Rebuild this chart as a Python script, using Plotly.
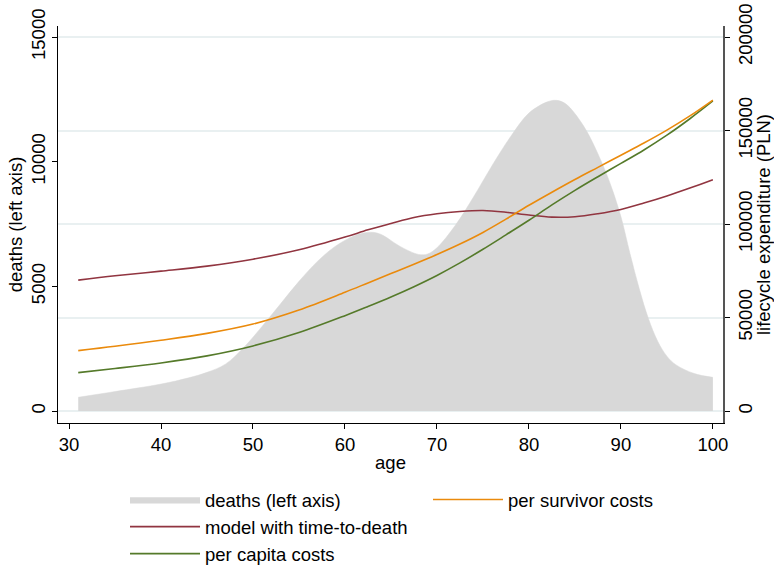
import plotly.graph_objects as go

# Deaths by age (left axis)
ages_deaths = [31, 35, 40, 43, 45, 47, 49, 51, 53, 55, 57, 59, 61, 62, 63, 64, 66, 68, 69, 70,
               72, 74, 76, 78, 80, 82, 83, 84, 86, 88, 89, 90, 91, 92, 93, 94, 95, 96, 98, 100]
deaths = [550, 780, 1080, 1330, 1550, 1880, 2550, 3400, 4300, 5200, 6000, 6620, 7030, 7140, 7170,
          7070, 6600, 6280, 6300, 6550, 7450, 8600, 9850, 11000, 11950, 12400, 12460, 12320, 11400,
          9900, 8950, 7800, 6300, 4900, 3700, 2800, 2200, 1850, 1500, 1350]

# Lifecycle expenditure by age (right axis, PLN)
ages_cost = [31, 35, 40, 45, 50, 55, 60, 62.5, 65, 67.5, 70, 72.5, 75, 77.5, 80, 82.5, 85,
             87.5, 90, 92.5, 95, 97.5, 100]
time_to_death = [70000, 72300, 74800, 77500, 81200, 86200, 93000, 96900, 100300, 103500, 105500,
                 106700, 107200, 106300, 104800, 103700, 103900, 105500, 107800, 111200, 115000,
                 119200, 123700]
per_capita = [20500, 22700, 25700, 29500, 34800, 42000, 51000, 55900, 61000, 66500, 72500,
              79200, 86500, 94200, 102000, 110200, 118000, 125300, 132400, 139600, 147500,
              156300, 165800]
per_survivor = [32300, 34600, 37800, 41500, 46500, 54000, 63500, 68500, 73500, 78500, 83700,
                89300, 95500, 102600, 110000, 117000, 123800, 130300, 136800, 143300, 150200,
                157800, 166300]

left_ticks = [0, 5000, 10000, 15000]
right_ticks = [0, 50000, 100000, 150000, 200000]
age_ticks = [30, 40, 50, 60, 70, 80, 90, 100]

FONT = "Liberation Sans, Arial, sans-serif"
FS = 18.5
RED = "#913540"
GREEN = "#557a2a"
ORANGE = "#ea8a0c"
GRAY = "#d8d8d8"

fig = go.Figure()

fig.add_trace(go.Scatter(
    x=ages_deaths, y=deaths, name="deaths (left axis)", mode="lines",
    line=dict(color=GRAY, width=0.5, shape="spline", smoothing=1.0),
    fill="tozeroy", fillcolor=GRAY, yaxis="y", legend="legend",
))
fig.add_trace(go.Scatter(
    x=ages_cost, y=time_to_death, name="model with time-to-death", mode="lines",
    line=dict(color=RED, width=1.6, shape="spline", smoothing=1.0),
    yaxis="y2", legend="legend",
))
fig.add_trace(go.Scatter(
    x=ages_cost, y=per_capita, name="per capita costs", mode="lines",
    line=dict(color=GREEN, width=1.6, shape="spline", smoothing=1.0),
    yaxis="y2", legend="legend",
))
fig.add_trace(go.Scatter(
    x=ages_cost, y=per_survivor, name="per survivor costs", mode="lines",
    line=dict(color=ORANGE, width=1.6, shape="spline", smoothing=1.0),
    yaxis="y2", legend="legend2",
))

# plot area in pixels: x 58..723, y 26..423
PL, PR, PT, PB = 58, 723, 26, 423
W, H = PR - PL, PB - PT


def px_x(p):
    return (p - PL) / W


def px_y(p):
    return (PB - p) / H


y_lo, y_hi = -481, 15442
scale = 200000 / 15000

fig.update_layout(
    width=774, height=565,
    margin=dict(l=PL, r=774 - PR, t=PT, b=565 - PB, autoexpand=False),
    paper_bgcolor="white", plot_bgcolor="white",
    font=dict(family=FONT, size=FS, color="#000"),
    xaxis=dict(
        range=[28.8, 101.1], tickvals=age_ticks, ticks="outside", ticklen=5,
        tickcolor="#000", showline=True, linecolor="#000", linewidth=1,
        showgrid=False, zeroline=False, automargin=False,
        title=dict(text="age", font=dict(size=FS), standoff=1),
    ),
    yaxis=dict(
        range=[y_lo, y_hi], tickvals=left_ticks, tickformat="d", ticks="outside", ticklen=5,
        tickcolor="#000", tickangle=-90, showline=True, linecolor="#000", linewidth=1,
        showgrid=False, zeroline=False, automargin=False,
        title=dict(text="deaths (left axis)", font=dict(size=FS), standoff=0),
    ),
    yaxis2=dict(
        range=[y_lo * scale, y_hi * scale], tickvals=right_ticks, tickformat="d",
        ticks="outside", ticklen=5, tickcolor="#000", tickangle=-90,
        showline=True, linecolor="#555", linewidth=1.5,
        overlaying="y", side="right", showgrid=True, gridcolor="#e9f0f1", gridwidth=1.5,
        zeroline=False, automargin=False,
        title=dict(text="lifecycle expenditure (PLN)", font=dict(size=FS), standoff=2),
    ),
    legend=dict(
        x=px_x(125), y=px_y(481), xanchor="left", yanchor="top",
        orientation="v", itemwidth=70, tracegroupgap=0, font=dict(size=FS),
        bgcolor="rgba(0,0,0,0)",
    ),
    legend2=dict(
        x=px_x(428), y=px_y(481), xanchor="left", yanchor="top",
        orientation="v", itemwidth=70, font=dict(size=FS), bgcolor="rgba(0,0,0,0)",
    ),
    showlegend=True,
)

fig.write_html("out.html")
